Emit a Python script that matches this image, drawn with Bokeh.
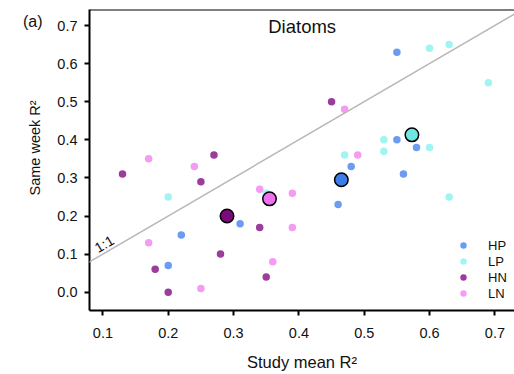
from bokeh.plotting import figure
from bokeh.models import (ColumnDataSource, FixedTicker, Label, Span, Slope,
                          Legend, LegendItem, Range1d, Title, LinearAxis)
from bokeh.embed import file_html
from bokeh.resources import INLINE

FONT = "Liberation Sans"

# Per-lake R² values for diatoms (x: study mean, y: same week)
hp_x = [0.55, 0.55, 0.58, 0.56, 0.48, 0.46, 0.31, 0.22, 0.20]
hp_y = [0.63, 0.40, 0.38, 0.31, 0.33, 0.23, 0.18, 0.15, 0.07]

lp_x = [0.60, 0.63, 0.69, 0.53, 0.53, 0.60, 0.47, 0.63, 0.20, 0.35]
lp_y = [0.64, 0.65, 0.55, 0.40, 0.37, 0.38, 0.36, 0.25, 0.25, 0.26]

hn_x = [0.45, 0.27, 0.13, 0.25, 0.28, 0.18, 0.20, 0.34, 0.35]
hn_y = [0.50, 0.36, 0.31, 0.29, 0.10, 0.06, 0.00, 0.17, 0.04]

ln_x = [0.47, 0.17, 0.24, 0.17, 0.25, 0.34, 0.39, 0.49, 0.39, 0.36]
ln_y = [0.48, 0.35, 0.33, 0.13, 0.01, 0.27, 0.26, 0.36, 0.17, 0.08]

# Group means
groups = ["HP", "LP", "HN", "LN"]
mean_x = [0.465, 0.573, 0.290, 0.355]
mean_y = [0.295, 0.413, 0.200, 0.245]

x_ticks = [0.1, 0.2, 0.3, 0.4, 0.5, 0.6, 0.7]
y_ticks = [0.0, 0.1, 0.2, 0.3, 0.4, 0.5, 0.6, 0.7]

point_colors = {"HP": "#6b9cf2", "LP": "#a0f4f2", "HN": "#9c3d9c", "LN": "#f59cf2"}
mean_colors = {"HP": "#3d7ee6", "LP": "#70e6e4", "HN": "#7d0a7d", "LN": "#ee70ee"}

X0, X1 = 0.0795, 0.730
Y0, Y1 = -0.048, 0.742
PANEL_TAG_Y = 0.710

p = figure(width=514, height=374, output_backend="svg", toolbar_location=None,
           x_range=Range1d(X0, X1), y_range=Range1d(Y0, Y1),
           min_border_left=89, min_border_right=0, min_border_top=9,
           min_border_bottom=64)
p.outline_line_color = None
p.xgrid.visible = False
p.ygrid.visible = False
p.background_fill_color = "white"
p.border_fill_color = "white"

for ax in (p.xaxis[0], p.yaxis[0]):
    ax.axis_line_width = 2
    ax.axis_line_color = "black"
    ax.major_tick_line_width = 2
    ax.major_tick_line_color = "black"
    ax.major_tick_out = 5
    ax.major_tick_in = 0
    ax.minor_tick_line_color = None
    ax.major_label_text_font = FONT
    ax.major_label_text_font_size = "14.5px"
    ax.major_label_text_color = "#111111"

p.xaxis.ticker = FixedTicker(ticks=x_ticks)
p.yaxis.ticker = FixedTicker(ticks=y_ticks)
p.xaxis.major_label_overrides = {t: f"{t:.1f}" for t in x_ticks}
p.yaxis.major_label_overrides = {t: f"{t:.1f}" for t in y_ticks}
p.xaxis.major_label_standoff = 12
p.yaxis.major_label_standoff = 7

p.xaxis.axis_label = "Study mean R²"
p.xaxis.axis_label_text_font = FONT
p.xaxis.axis_label_text_font_size = "16.5px"
p.xaxis.axis_label_text_font_style = "normal"
p.xaxis.axis_label_text_color = "#111111"
p.xaxis.axis_label_standoff = 12

# y-axis title, placed along the axis from its lower end
p.add_layout(Title(text="Same week R²", align="left", offset=115,
                   vertical_align="bottom", standoff=23, text_font=FONT,
                   text_font_size="14.5px", text_font_style="normal",
                   text_color="#111111"), "left")

# panel tag "(a)" carried by a bare outer axis
tag_axis = LinearAxis(ticker=FixedTicker(ticks=[PANEL_TAG_Y]),
                      major_label_overrides={PANEL_TAG_Y: "(a)"},
                      axis_line_color=None, major_tick_line_color=None,
                      minor_tick_line_color=None, major_tick_out=0,
                      major_tick_in=0, major_label_standoff=-29,
                      major_label_text_font=FONT,
                      major_label_text_font_size="16px",
                      major_label_text_color="#111111")
p.add_layout(tag_axis, "left")

# top border of the panel
p.add_layout(Span(location=Y1, dimension="width", line_color="black", line_width=2))

# 1:1 reference line
p.add_layout(Slope(gradient=1, y_intercept=0, line_color="#b8b8b8", line_width=1.5))
p.add_layout(Label(x=0.102, y=0.1265, text="1:1", angle=30.3, angle_units="deg",
                   text_align="center", text_baseline="middle",
                   text_font=FONT, text_font_size="14px", text_color="#111111"))

renderers = {}
for g, xs, ys in (("HP", hp_x, hp_y), ("LP", lp_x, lp_y),
                  ("HN", hn_x, hn_y), ("LN", ln_x, ln_y)):
    src = ColumnDataSource(dict(x=xs, y=ys))
    renderers[g] = p.scatter("x", "y", source=src, size=7.5,
                             fill_color=point_colors[g], line_color=None)

for g, mx, my in zip(groups, mean_x, mean_y):
    src = ColumnDataSource(dict(x=[mx], y=[my]))
    p.scatter("x", "y", source=src, size=13.5, fill_color=mean_colors[g],
              line_color="black", line_width=1.5)

legend = Legend(items=[LegendItem(label=g, renderers=[renderers[g]]) for g in groups],
                location=(364, 9), padding=0, margin=0, spacing=0,
                glyph_width=20, glyph_height=16, label_height=16,
                label_standoff=15, border_line_color=None,
                background_fill_alpha=0, label_text_font=FONT,
                label_text_font_size="13px", label_text_color="#111111")
p.add_layout(legend)

p.add_layout(Label(x=0.405, y=0.698, text="Diatoms", text_align="center",
                   text_baseline="middle", text_font=FONT,
                   text_font_size="18.5px", text_color="#111111"))

open("out.html", "w").write(file_html(p, INLINE))
